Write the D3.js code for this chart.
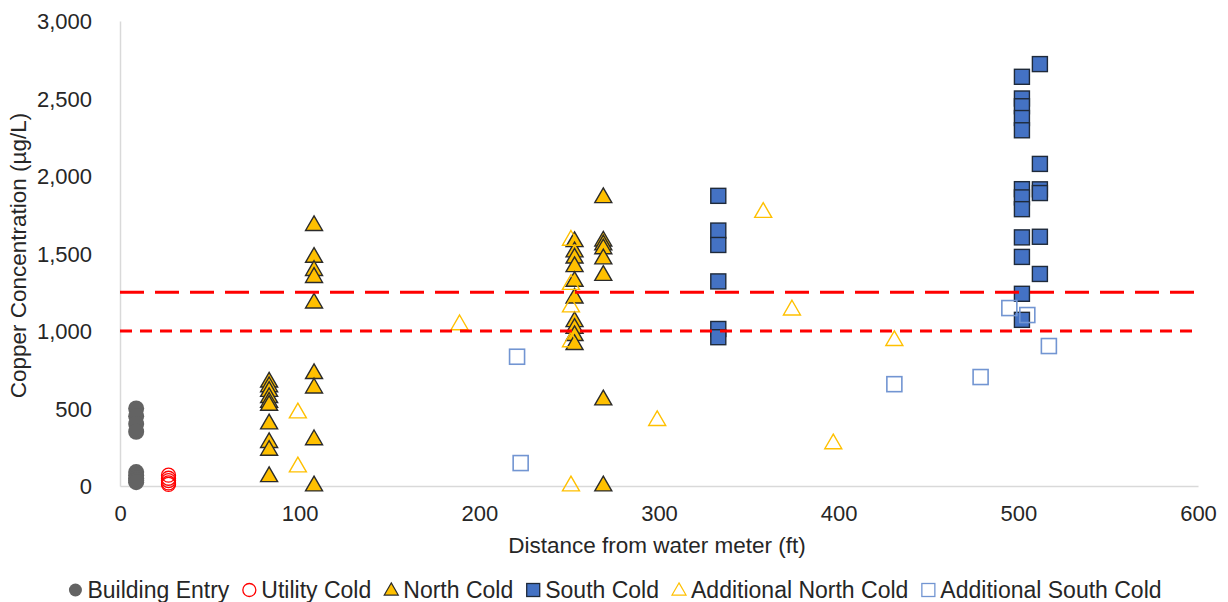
<!DOCTYPE html>
<html>
<head>
<meta charset="utf-8">
<script src="https://cdn.jsdelivr.net/npm/d3@7"></script>
<style>
  html, body { margin: 0; padding: 0; background: #ffffff; }
  svg { display: block; font-family: "Liberation Sans", Arial, sans-serif; }
</style>
</head>
<body>
<svg id="chart" width="1228" height="602"></svg>
<script>
// ---- data ----
const xTicks = [0, 100, 200, 300, 400, 500, 600];
const yTicks = [0, 500, 1000, 1500, 2000, 2500, 3000];

const buildingEntryX = [9, 9, 9, 9, 9, 9, 9, 9, 9];
const buildingEntryY = [500, 450, 400, 350, 90, 70, 50, 35, 25];

const utilityColdX = [27, 27, 27, 27, 27];
const utilityColdY = [70, 50, 35, 20, 10];

const northColdX = [83, 83, 83, 83, 83, 83, 83, 83, 83, 83,
                    108, 108, 108, 108, 108, 108, 108, 108, 108,
                    253, 253, 253, 253, 253, 253, 253, 253, 253, 253,
                    269, 269, 269, 269, 269, 269, 269, 269];
const northColdY = [670, 640, 610, 570, 540, 520, 400, 280, 230, 60,
                    1680, 1475, 1390, 1345, 1180, 725, 632, 298, 0,
                    1576, 1510, 1470, 1415, 1320, 1212, 1060, 1017, 970, 912,
                    1860, 1580, 1555, 1530, 1465, 1358, 555, 0];

const southColdX = [333, 333, 333, 333, 333, 333,
                    502, 502, 502, 502, 502, 502, 502, 502, 502, 502, 502, 502,
                    512, 512, 512, 512, 512, 512];
const southColdY = [1872, 1648, 1555, 1320, 1013, 960,
                    2640, 2500, 2450, 2374, 2295, 1915, 1862, 1786, 1604, 1478, 1240, 1072,
                    2722, 2078, 1914, 1890, 1608, 1368];

const addNorthX = [99, 99, 189, 251, 251, 251, 251, 251, 299, 358, 374, 397, 431];
const addNorthY = [471, 123, 1040, 1585, 1300, 1155, 930, 0, 422, 1765, 1135, 272, 938];

const addSouthX = [221, 223, 431, 479, 495, 505, 517];
const addSouthY = [834, 148, 657, 703, 1148, 1103, 903];

const limitHigh = 1250;
const limitLow = 1000;

const seriesNames = ["Building Entry", "Utility Cold", "North Cold", "South Cold",
                     "Additional North Cold", "Additional South Cold"];

// ---- chart ----
const svg = d3.select("#chart");
const x = d3.scaleLinear().domain([0, 600]).range([120, 1198]);
const y = d3.scaleLinear().domain([0, 3000]).range([486, 21]);

const axisColor = "#d9d9d9";
const textColor = "#262626";

// axes
const xAxis = svg.append("g").attr("transform", `translate(0,${y(0)})`)
  .call(d3.axisBottom(x).tickValues(xTicks).tickSize(0).tickPadding(19).tickFormat(d3.format("d")));
const yAxis = svg.append("g").attr("transform", `translate(${x(0)},0)`)
  .call(d3.axisLeft(y).tickValues(yTicks).tickSize(0).tickPadding(28).tickFormat(d3.format(",")));
[xAxis, yAxis].forEach(g => {
  g.select(".domain").attr("stroke", axisColor).attr("stroke-width", 1.5);
  g.selectAll("text").attr("fill", textColor).style("font-size", "22px")
   .style("font-family", "'Liberation Sans', Arial, sans-serif");
});
yAxis.selectAll("text").attr("dy", "0.35em");

// axis titles
svg.append("text").attr("x", 657).attr("y", 553)
  .attr("text-anchor", "middle").attr("fill", textColor).style("font-size", "22.5px")
  .text("Distance from water meter (ft)");
svg.append("text").attr("transform", `translate(26,${(y(0) + y(3000)) / 2 + 2}) rotate(-90)`)
  .attr("text-anchor", "middle").attr("fill", textColor).style("font-size", "22.5px")
  .text("Copper Concentration (µg/L)");

// marker helpers
const triPath = d3.symbol().type(d3.symbolTriangle).size(125)();
const sq = 15;

const plot = svg.append("g");

// Building Entry
plot.selectAll(".be").data(buildingEntryY).join("circle")
  .attr("cx", (d, i) => x(buildingEntryX[i])).attr("cy", d => y(d)).attr("r", 8)
  .attr("fill", "#636363");

// Utility Cold
plot.selectAll(".uc").data(utilityColdY).join("circle")
  .attr("cx", (d, i) => x(utilityColdX[i])).attr("cy", d => y(d)).attr("r", 7)
  .attr("fill", "none").attr("stroke", "#ff0000").attr("stroke-width", 1.3);

// North Cold
plot.selectAll(".nc").data(northColdY).join("path")
  .attr("d", triPath)
  .attr("transform", (d, i) => `translate(${x(northColdX[i])},${y(d)})`)
  .attr("fill", "#ffc000").attr("stroke", "#2b2b2b").attr("stroke-width", 1.4);

// South Cold
plot.selectAll(".sc").data(southColdY).join("rect")
  .attr("x", (d, i) => x(southColdX[i]) - sq / 2).attr("y", d => y(d) - sq / 2)
  .attr("width", sq).attr("height", sq)
  .attr("fill", "#4472c4").attr("stroke", "#1f2a3a").attr("stroke-width", 1.4);

// Additional North Cold
plot.selectAll(".anc").data(addNorthY).join("path")
  .attr("d", triPath)
  .attr("transform", (d, i) => `translate(${x(addNorthX[i])},${y(d)})`)
  .attr("fill", "none").attr("stroke", "#ffc000").attr("stroke-width", 1.4);

// Additional South Cold
plot.selectAll(".asc").data(addSouthY).join("rect")
  .attr("x", (d, i) => x(addSouthX[i]) - sq / 2).attr("y", d => y(d) - sq / 2)
  .attr("width", sq).attr("height", sq)
  .attr("fill", "none").attr("stroke", "#7295d2").attr("stroke-width", 1.6);

// reference lines
svg.append("line").attr("x1", x(0)).attr("x2", x(600))
  .attr("y1", y(limitHigh)).attr("y2", y(limitHigh))
  .attr("stroke", "#ff0000").attr("stroke-width", 3).attr("stroke-dasharray", "24,11");
svg.append("line").attr("x1", x(0)).attr("x2", x(600))
  .attr("y1", y(limitLow)).attr("y2", y(limitLow))
  .attr("stroke", "#ff0000").attr("stroke-width", 3).attr("stroke-dasharray", "12,8");

// legend
const legend = svg.append("g");
const legendY = 590;
let cursor = 0;
seriesNames.forEach((name, i) => {
  const g = legend.append("g");
  const mx = cursor + 7;
  if (i === 0) g.append("circle").attr("cx", mx).attr("cy", legendY).attr("r", 6.5).attr("fill", "#636363");
  if (i === 1) g.append("circle").attr("cx", mx).attr("cy", legendY).attr("r", 6.5)
    .attr("fill", "none").attr("stroke", "#ff0000").attr("stroke-width", 1.3);
  if (i === 2 || i === 4) g.append("path").attr("d", d3.symbol().type(d3.symbolTriangle).size(85)())
    .attr("transform", `translate(${mx},${legendY + 1})`)
    .attr("fill", i === 2 ? "#ffc000" : "none").attr("stroke", i === 2 ? "#2b2b2b" : "#ffc000").attr("stroke-width", 1.2);
  if (i === 3 || i === 5) g.append("rect").attr("x", mx - 6.5).attr("y", legendY - 6.5).attr("width", 13).attr("height", 13)
    .attr("fill", i === 3 ? "#4472c4" : "none").attr("stroke", i === 3 ? "#1f2a3a" : "#7295d2").attr("stroke-width", 1.3);
  const t = g.append("text").attr("x", cursor + 19).attr("y", legendY).attr("dy", "0.35em")
    .attr("fill", textColor).style("font-size", "23px").text(name);
  cursor += 19 + t.node().getComputedTextLength() + 13;
});
const legendWidth = cursor - 13;
legend.attr("transform", `translate(${615 - legendWidth / 2},0)`);
</script>
</body>
</html>
